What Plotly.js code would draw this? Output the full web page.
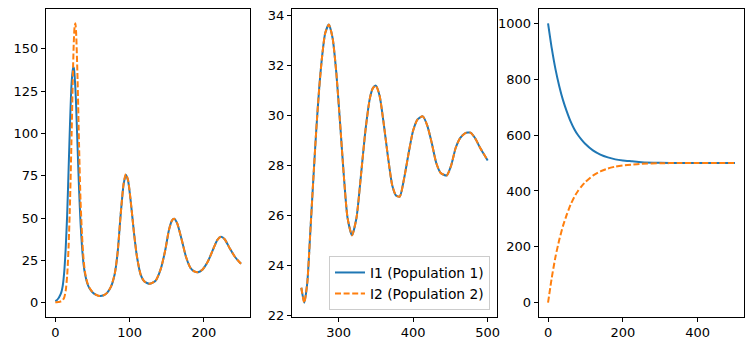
<!DOCTYPE html>
<html>
<head>
<meta charset="utf-8">
<script src="https://cdn.plot.ly/plotly-3.0.1.min.js"></script>
<style>html,body{margin:0;padding:0;background:#fff;}#chart{width:753px;height:351px;}</style>
</head>
<body>
<div id="chart"></div>
<script>
// Panel 1: t 0..250
const t1 = [0,2,4,6,8,10,12,14,16,18,20,22,24,25,26,27,28,30,32,34,36,38,40,43,46,50,55,60,65,70,75,80,84,88,92,95,98,102,106,110,115,120,127,135,142,148,153,157,160,164,170,176,182,187,192,198,205,212,218,223,228,235,242,250];
const i1a = [1,1.5,2.5,4,6,10,18,32,52,80,108,130,139,138.5,134,127,117,92,67,47,33,23,17,11.5,8.5,6.2,4.6,4,4.4,6,9.5,17,30,52,70,75.5,72,58,41,27,16.5,12.5,11.2,13,20,31,43,48.5,49.6,47,37.5,27,20.5,18.5,18,19.5,24,31,37,38.9,37.5,32,27,23];
const i2a = [0.3,0.3,0.4,0.6,0.9,1.5,3,7,16,34,62,100,140,155,163,165,160,132,93,60,40,26,18,12,8.8,6.4,4.7,4,4.4,6,9.5,17,30,52,70.5,76,72.5,58,41,27,16.5,12.5,11.2,13,20,31,43,48.5,49.6,47,37.5,27,20.5,18.5,18,19.5,24,31,37,38.9,37.5,32,27,23];
// Panel 2: t 250..500
const t2 = [250,254,258,262,266,270,274,278,282,287,292,297,302,307,312,318,324,330,336,342,346,350,355,360,366,372,377,382,388,394,400,406,413,419,425,431,437,445,451,457,463,470,477,483,490,496,500];
const i1b = [23.1,22.5,23.3,25.3,27.4,29.4,31.1,32.4,33.3,33.65,33.1,31.7,29.7,27.6,25.9,25.2,25.9,27.6,29.4,30.7,31.1,31.2,30.8,29.8,28.4,27.2,26.8,26.75,27.5,28.5,29.4,29.85,29.97,29.6,28.9,28.1,27.7,27.6,28.0,28.7,29.1,29.3,29.32,29.1,28.7,28.4,28.2];
const i2b = [23.1,22.5,23.3,25.3,27.4,29.4,31.1,32.4,33.3,33.65,33.1,31.7,29.7,27.6,25.9,25.2,25.9,27.6,29.4,30.7,31.1,31.2,30.8,29.8,28.4,27.2,26.8,26.75,27.5,28.5,29.4,29.85,29.97,29.6,28.9,28.1,27.7,27.6,28.0,28.7,29.1,29.3,29.32,29.1,28.7,28.4,28.2];
// Panel 3: t 0..500
const t3 = [0,10,20,30,40,50,60,70,80,90,100,120,140,160,180,200,225,250,300,350,400,450,500];
const s1 = [1000,910,835,775,725,685,650,622,600,583,568,545,530,520,513,509,506,503,501,500,500,500,500];
const s2 = [0,90,165,225,275,315,350,378,400,417,432,455,470,480,487,491,494,497,499,500,500,500,500];

const blue = '#1f77b4', orange = '#ff7f0e';
const solid = {color: blue, width: 2, shape: 'spline', smoothing: 0.6};
const dashed = {color: orange, width: 2, dash: '6px,2.6px', shape: 'spline', smoothing: 0.6};

const traces = [
  {x: t1, y: i1a, xaxis: 'x', yaxis: 'y', mode: 'lines', line: solid, showlegend: false},
  {x: t1, y: i2a, xaxis: 'x', yaxis: 'y', mode: 'lines', line: dashed, showlegend: false},
  {x: t2, y: i1b, xaxis: 'x2', yaxis: 'y2', mode: 'lines', line: solid, name: 'I1 (Population 1)'},
  {x: t2, y: i2b, xaxis: 'x2', yaxis: 'y2', mode: 'lines', line: dashed, name: 'I2 (Population 2)'},
  {x: t3, y: s1, xaxis: 'x3', yaxis: 'y3', mode: 'lines', line: solid, showlegend: false},
  {x: t3, y: s2, xaxis: 'x3', yaxis: 'y3', mode: 'lines', line: dashed, showlegend: false}
];

const W = 753, H = 351;
const yd = [1 - 316.7/H, 1 - 9.3/H];
function ax(domain, range, tickvals, anchor) {
  return {domain: domain, range: range, tickvals: tickvals, anchor: anchor,
    showline: true, mirror: true, linecolor: '#000', linewidth: 1,
    ticks: 'outside', ticklen: 4, tickwidth: 1, tickcolor: '#000',
    showgrid: false, zeroline: false, tickfont: {size: 13, color: '#000'}};
}
const layout = {
  width: W, height: H,
  margin: {l: 0, r: 0, t: 0, b: 0},
  paper_bgcolor: '#fff', plot_bgcolor: '#fff',
  font: {family: 'DejaVu Sans', size: 13, color: '#000'},
  xaxis: ax([46/W, 250.3/W], [-12.5, 262.5], [0,100,200], 'y'),
  yaxis: ax(yd, [-8.25, 173.25], [0,25,50,75,100,125,150], 'x'),
  xaxis2: ax([292/W, 497/W], [237.5, 512.5], [300,400,500], 'y2'),
  yaxis2: ax(yd, [21.94, 34.26], [22,24,26,28,30,32,34], 'x2'),
  xaxis3: ax([538.7/W, 744.3/W], [-25, 525], [0,200,400], 'y3'),
  yaxis3: ax(yd, [-50, 1050], [0,200,400,600,800,1000], 'x3'),
  legend: {x: 490/W, y: 1 - 310/H, xanchor: 'right', yanchor: 'bottom',
    bgcolor: 'rgba(255,255,255,0.8)', bordercolor: '#cccccc', borderwidth: 1,
    font: {size: 13.8, color: '#000'}, tracegroupgap: 0, itemwidth: 30}
};
Plotly.newPlot('chart', traces, layout, {staticPlot: true, displayModeBar: false});
</script>
</body>
</html>
